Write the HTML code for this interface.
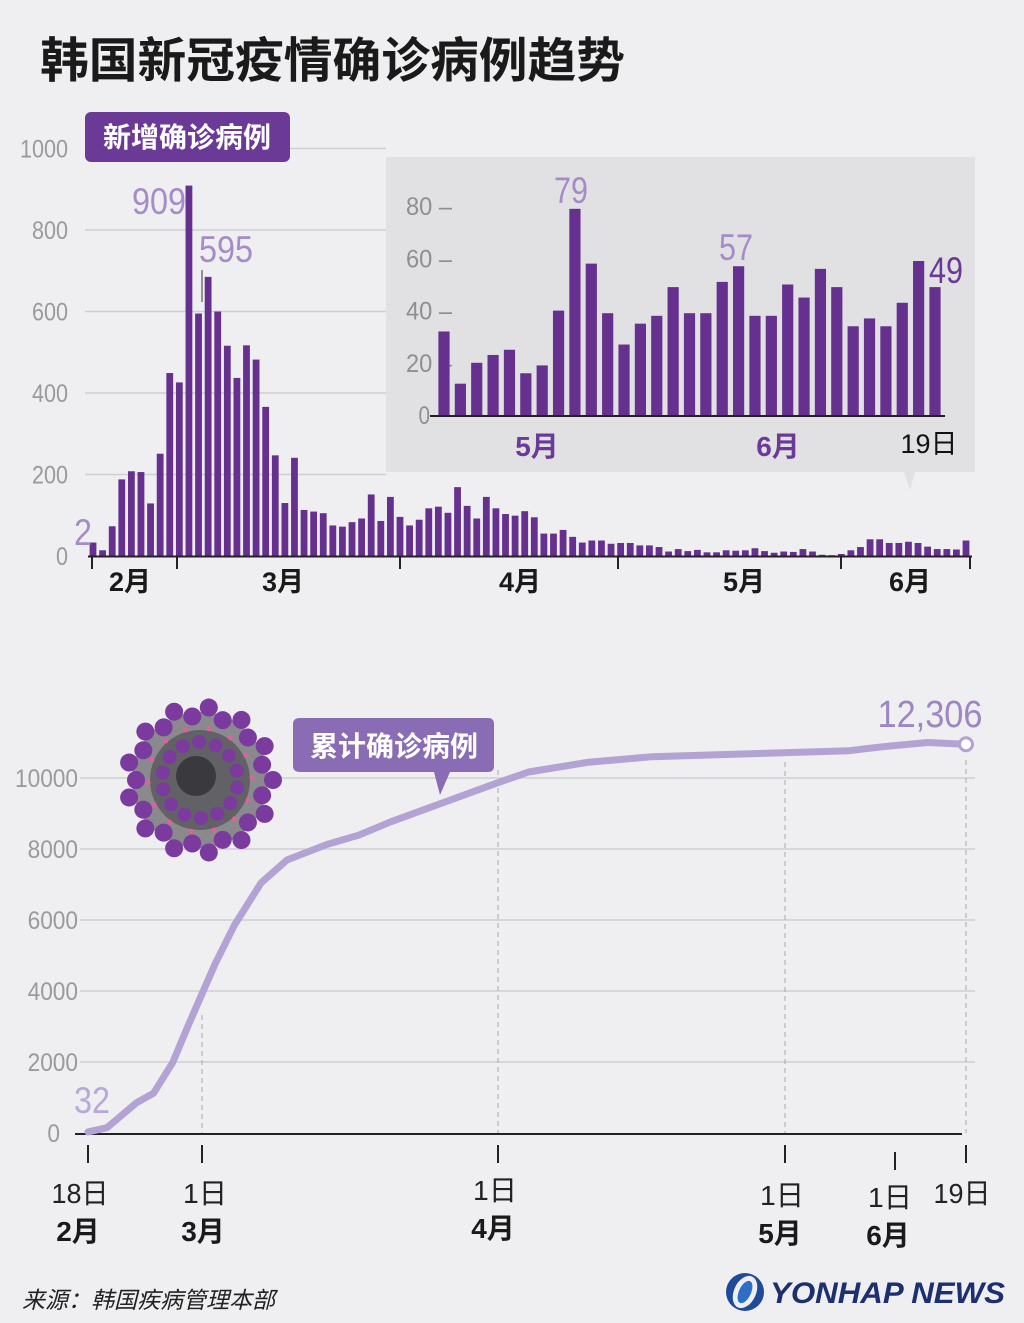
<!DOCTYPE html>
<html><head><meta charset="utf-8"><style>
html,body{margin:0;padding:0;background:#efeff1;}
svg{display:block;font-family:"Liberation Sans","Noto Sans CJK SC",sans-serif;}
</style></head><body>
<svg id="chart" width="1024" height="1323" viewBox="0 0 1024 1323">
<rect x="0" y="0" width="1024" height="1323" fill="#efeff1"/>
<text x="40" y="77" font-size="48" font-weight="bold" fill="#1a1a1a" textLength="585" lengthAdjust="spacingAndGlyphs">韩国新冠疫情确诊病例趋势</text>
<g id="daily"></g>
<g id="inset"></g>
<g id="cum"></g>
<g id="virus"></g>
<text x="22" y="1308" font-size="23" font-style="italic" fill="#222">来源：韩国疾病管理本部</text>
<g>
<circle cx="745" cy="1292" r="19" fill="#1f4a9a"/>
<ellipse cx="745" cy="1292" rx="11" ry="17" fill="#efeff1" transform="rotate(25 745 1292)"/>
<ellipse cx="745" cy="1292" rx="6" ry="12" fill="#2c6fc4" transform="rotate(25 745 1292)"/>
<text x="770" y="1303" font-size="30" font-weight="bold" font-style="italic" fill="#1c2f6e" textLength="235" lengthAdjust="spacingAndGlyphs">YONHAP NEWS</text>
</g>
</svg>
<script>
const NS='http://www.w3.org/2000/svg';
// ---- daily data ----
const dailyValues=[33,14,73,188,208,206,129,251,449,426,909,595,685,600,516,437,517,482,366,247,130,241,113,109,105,75,72,83,92,151,86,145,96,
75,89,117,121,106,169,123,92,145,117,103,99,110,95,55,55,64,47,33,38,38,30,32,32,26,26,22,11,17,12,15,9,9,14,13,14,19,12,8,11,10,17,11,3,2,5,14,22,41,41,32,32,35,32,23,17,17,16,38];
const dailyTicks=[0,200,400,600,800,1000];
const dailyMonths=['2月','3月','4月','5月','6月'];
// ---- inset data ----
const insetValues=[32,12,20,23,25,16,19,40,79,58,39,27,35,38,49,39,39,51,57,38,38,50,45,56,49,34,37,34,43,59,49];
const insetTicks=[0,20,40,60,80];
// ---- cumulative data (day offset from Feb 18, total) ----
const cumDays=[0,2,5.1,6.9,8.9,10.6,12,13.4,15.4,18.2,20.9,25,28.4,31.8,37.3,42.8,46.2,52.3,59.1,72.8,91.1,100.3,112.3,122];
const cumValues=[32,150,850,1120,1980,3060,3920,4780,5860,7050,7690,8120,8390,8770,9310,9850,10170,10440,10600,10710,10770,10880,11000,10950];
const cumTicks=[0,2000,4000,6000,8000,10000];
const cumDateLabels=['18日','1日','1日','1日','1日','19日'];
const cumMonthLabels=['2月','3月','4月','5月','6月',''];

function mk(p,tag,at,txt){const e=document.createElementNS(NS,tag);for(const k in at)e.setAttribute(k,at[k]);if(txt!==undefined)e.textContent=txt;p.appendChild(e);return e;}
function narrow(e,perChar){e.setAttribute('textLength',(e.textContent.length*perChar).toFixed(1));e.setAttribute('lengthAdjust','spacingAndGlyphs');}

// daily chart axes
const dG=document.getElementById('daily');
const dY=v=>556-v*0.4075;
const dX=i=>93+i*(966-93)/(dailyValues.length-1);
dailyTicks.forEach(t=>{
  if(t>0){const l=mk(dG,'line',{x1:85,x2:386,y1:dY(t),y2:dY(t),stroke:'#cfcfd3','stroke-width':1.5});
  
  }
  const tx=mk(dG,'text',{x:68,y:dY(t)+9,'font-size':25,fill:'#9a9a9a','text-anchor':'end'},String(t));
  narrow(tx,12);
  
  
});
const iG=document.getElementById('inset');
const ib=mk(iG,'path',{d:'M386 157 H975 V472 H915 L910 490 L904 472 H386 Z',fill:'#e1e1e4'});


dailyValues.forEach((v,i)=>{
  const r=mk(dG,'rect',{x:dX(i)-3.4,y:dY(v),width:6.8,height:556-dY(v),fill:'#66308f'});
  
  
});
const ax=mk(dG,'line',{x1:88,x2:972,y1:556.5,y2:556.5,stroke:'#222','stroke-width':2});


[92,177,400,618,841,970].forEach(x=>{const t=mk(dG,'line',{x1:x,x2:x,y1:557,y2:569,stroke:'#222','stroke-width':2});

});
[130,283,520,744,910].forEach((x,i)=>{const t=mk(dG,'text',{x:x,y:591,'font-size':27,'font-weight':'bold',fill:'#1a1a1a','text-anchor':'middle'},dailyMonths[i]);

});
const lbl=mk(dG,'rect',{x:85,y:112,width:205,height:50,rx:6,fill:'#6a3a96'});


const lt=mk(dG,'text',{x:187,y:147,'font-size':28,'font-weight':'bold',fill:'#fff','text-anchor':'middle'},'新增确诊病例');


const a1=mk(dG,'text',{x:186,y:214,'font-size':37,fill:'#a58cc7','text-anchor':'end'},String(dailyValues[10]));
narrow(a1,18);


const a2=mk(dG,'text',{x:199,y:262,'font-size':37,fill:'#a58cc7'},String(dailyValues[11]));
narrow(a2,18);


mk(dG,'line',{x1:202,x2:202,y1:270,y2:302,stroke:'#333','stroke-width':1});
const a3=mk(dG,'text',{x:92,y:545,'font-size':37,fill:'#a58cc7','text-anchor':'end'},'2');
narrow(a3,18);



// inset bars
const iY=v=>415-v*2.61;
const iX=i=>444+i*(935-444)/(insetValues.length-1);
insetTicks.forEach(t=>{const tx=mk(iG,'text',{x:430,y:iY(t)+9,'font-size':25,fill:'#8f8f8f','text-anchor':'end'},t===0?'0':t+' –');
if(t>0)tx.setAttribute('x',452);
narrow(tx,11.5);

});
insetValues.forEach((v,i)=>{const r=mk(iG,'rect',{x:iX(i)-5.6,y:iY(v),width:11.2,height:415-iY(v),fill:'#66308f'});

});
const iax=mk(iG,'line',{x1:430,x2:945,y1:416,y2:416,stroke:'#222','stroke-width':2});


[[537,'5月','#6a3a96'],[778,'6月','#6a3a96']].forEach(([x,s,c])=>{const t=mk(iG,'text',{x:x,y:456,'font-size':28,'font-weight':'bold',fill:c,'text-anchor':'middle'},s);

});
const d19=mk(iG,'text',{x:929,y:453,'font-size':27,fill:'#111','text-anchor':'middle'},'19日');


[[8,'#a58cc7',571,203,'middle'],[18,'#a58cc7',736,260,'middle'],[30,'#6a3a96',929,283,'start']].forEach(([i,c,x,y,an])=>{
  const t=mk(iG,'text',{x:x,y:y,'font-size':37,fill:c,'text-anchor':an},String(insetValues[i]));
  narrow(t,17);
  
  });

// cumulative chart
const cG=document.getElementById('cum');
const cY=v=>1133-v*0.0355;
const anchorDays=[0,12,43,73,104,122], anchorX=[88,202,498,785,895,966];
function cX(d){for(let k=0;k<anchorDays.length-1;k++){if(d<=anchorDays[k+1]){const f=(d-anchorDays[k])/(anchorDays[k+1]-anchorDays[k]);return anchorX[k]+f*(anchorX[k+1]-anchorX[k]);}}return anchorX[anchorX.length-1];}
cumTicks.forEach(t=>{
  if(t>0){const l=mk(cG,'line',{x1:80,x2:975,y1:cY(t),y2:cY(t),stroke:'#cfcfd3','stroke-width':1.5});
  
  }
  const tx=mk(cG,'text',{x:t===0?60:78,y:cY(t)+9,'font-size':25,fill:'#9a9a9a','text-anchor':'end'},String(t));
  narrow(tx,12.6);
  
  
});
[[202,1015],[498,770],[785,762],[966,760]].forEach(([x,y0])=>{const l=mk(cG,'line',{x1:x,x2:x,y1:y0,y2:1133,stroke:'#aaa','stroke-width':1,'stroke-dasharray':'5,4'});

});
const cax=mk(cG,'line',{x1:75,x2:962,y1:1134,y2:1134,stroke:'#222','stroke-width':2});


anchorDays.forEach((d,i)=>{
  const x=cX(d);
  const y0=i===4?1152:1145;
  const tk=mk(cG,'line',{x1:x,x2:x,y1:y0,y2:y0+18,stroke:'#222','stroke-width':2});
  
  
  const dy=[1203,1203,1200,1205,1207,1203][i];
  const lx=[80,205,495,782,890,962][i];
  const t=mk(cG,'text',{x:lx,y:dy,'font-size':28,fill:'#222','text-anchor':'middle'},cumDateLabels[i]);
  narrow(t,cumDateLabels[i].length===3?19:22);
  
  
  if(cumMonthLabels[i]){const m=mk(cG,'text',{x:lx-2,y:dy+38,'font-size':28,'font-weight':'bold',fill:'#1a1a1a','text-anchor':'middle'},cumMonthLabels[i]);
  
  }
});
const pts=cumDays.map((d,i)=>cX(d).toFixed(1)+','+cY(cumValues[i]).toFixed(1)).join(' ');
const pl=mk(cG,'polyline',{points:pts,fill:'none',stroke:'#b3a2d4','stroke-width':7,'stroke-linejoin':'round','stroke-linecap':'round'});


const last=cumDays.length-1;
const ec=mk(cG,'circle',{cx:cX(cumDays[last]),cy:cY(cumValues[last]),r:6.5,fill:'#fff',stroke:'#b3a2d4','stroke-width':3});


const ev=mk(cG,'text',{x:930,y:727,'font-size':38,fill:'#9d86c2','text-anchor':'middle'},'12,306');
narrow(ev,17.5);


const sv=mk(cG,'text',{x:92,y:1113,'font-size':37,fill:'#b8a8d8','text-anchor':'middle'},'32');
narrow(sv,18);


const cb=mk(cG,'path',{d:'M300 718 H488 Q494 718 494 724 V766 Q494 772 488 772 H450 L440 795 L434 772 H300 Q293 772 293 766 V724 Q293 718 300 718 Z',fill:'#8a6cb5'});


const ct=mk(cG,'text',{x:394,y:756,'font-size':28,'font-weight':'bold',fill:'#fff','text-anchor':'middle'},'累计确诊病例');



// virus illustration
const vG=document.getElementById('virus');
mk(vG,'circle',{cx:200,cy:780,r:68,fill:'#8a8a8e'});
mk(vG,'circle',{cx:200,cy:780,r:50,fill:'#626266'});
mk(vG,'circle',{cx:196,cy:776,r:20,fill:'#3a3a3e'});
for(let k=0;k<26;k++){const a=k/26*Math.PI*2;const rr=k%2?64:73;
 mk(vG,'circle',{cx:200+Math.cos(a)*rr,cy:780+Math.sin(a)*rr,r:9,fill:'#7a3a9e'});}
for(let k=0;k<14;k++){const a=k/14*Math.PI*2+0.2;
 mk(vG,'circle',{cx:200+Math.cos(a)*38,cy:780+Math.sin(a)*38,r:7,fill:'#7a3a9e'});
 mk(vG,'circle',{cx:200+Math.cos(a+0.2)*52,cy:780+Math.sin(a+0.2)*52,r:2.5,fill:'#e0609a'});}
</script>
</body></html>
